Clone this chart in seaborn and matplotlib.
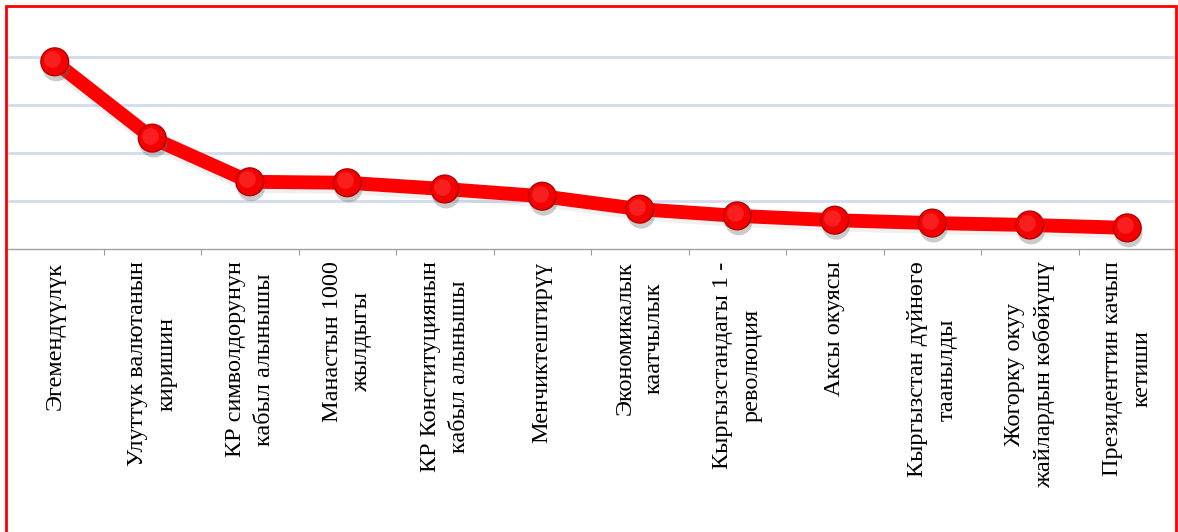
import matplotlib
matplotlib.use("Agg")
import matplotlib.pyplot as plt
import matplotlib.patheffects as pe
from matplotlib.patches import Rectangle
from matplotlib.transforms import offset_copy
from matplotlib.ticker import FixedLocator
import seaborn as sns
import pandas as pd

events = [
    "Эгемендүүлүк",
    "Улуттук валютанын\nкиришин",
    "КР символдорунун\nкабыл алынышы",
    "Манастын 1000\nжылдыгы",
    "КР Конституциянын\nкабыл алынышы",
    "Менчиктештирүү",
    "Экономикалык\nкаатчылык",
    "Кыргызстандагы 1 -\nреволюция",
    "Аксы окуясы",
    "Кыргызстан дүйнөгө\nтаанылды",
    "Жогорку окуу\nжайлардын көбөйүшү",
    "Президенттин качып\nкетиши",
]
values = [39.0, 23.1, 14.0, 13.8, 12.5, 11.0, 8.3, 6.9, 6.0, 5.4, 5.0, 4.4]
y_ticks = [0, 10, 20, 30, 40, 50]

df = pd.DataFrame({"event": events, "value": values})

sns.set_theme(style="white")
plt.rcParams["font.family"] = ["Liberation Serif", "DejaVu Serif"]

W, H, DPI = 1178, 532, 100
fig = plt.figure(figsize=(W / DPI, H / DPI), dpi=DPI)
ax = fig.add_axes([6 / W, 1 - 249 / H, 1170 / W, 240 / H])

sns.pointplot(data=df, x="event", y="value", order=events, color="#ff0000",
              markers="o", errorbar=None, ax=ax, linewidth=10, markersize=1)

main = ax.lines[0]
main.set_marker("None")
main.set_solid_capstyle("round")
main.set_solid_joinstyle("round")
main.set_path_effects([pe.SimpleLineShadow(offset=(0, -3), shadow_color="#888888", alpha=0.12),
                       pe.Normal()])

# spherical markers on the same data points
ax.plot(main.get_xdata(), main.get_ydata(), linestyle="none", marker="o", markersize=20,
        color="#f50000", markeredgecolor="#b40000", markeredgewidth=1.0, zorder=4,
        path_effects=[pe.SimplePatchShadow(offset=(1, -4), shadow_rgbFace="#6a6a6a", alpha=0.35),
                      pe.Normal()])
hl = offset_copy(ax.transData, fig=fig, x=-2.5, y=2.5, units="dots")
ax.plot(main.get_xdata(), main.get_ydata(), linestyle="none", marker="o", markersize=12,
        color="#ff3a3a", markeredgewidth=0, alpha=0.55, transform=hl, zorder=5)

ax.set_xlim(-0.5, len(events) - 0.5)
ax.set_ylim(y_ticks[0], y_ticks[-1])
ax.set_yticks(y_ticks[1:-1])
ax.set_yticklabels([])
ax.tick_params(axis="y", length=0)
ax.grid(axis="y", color="#d2dcee", linewidth=2)
ax.grid(axis="x", visible=False)
ax.set_axisbelow(True)
ax.set_xlabel("")
ax.set_ylabel("")

for s in ["left", "top", "right"]:
    ax.spines[s].set_visible(False)
ax.spines["bottom"].set_color("#a0a0a0")
ax.spines["bottom"].set_linewidth(1.0)
ax.spines["bottom"].set_linestyle((0, (1, 1)))

ax.xaxis.set_minor_locator(FixedLocator([i + 0.5 for i in range(len(events) - 1)]))
ax.tick_params(axis="x", which="minor", length=4, width=0.8, color="#9a9a9a", direction="out", bottom=True)
ax.tick_params(axis="x", which="major", length=0, pad=9)
for lbl in ax.get_xticklabels():
    lbl.set_rotation(90)
    lbl.set_ha("center")
    lbl.set_va("top")
    lbl.set_multialignment("center")
    lbl.set_fontsize(17.5)
    lbl.set_linespacing(1.5)
    lbl.set_color("black")

fig.patches.append(Rectangle((6 / W, -0.01), 1170 / W, 1 - 6 / H + 0.01, transform=fig.transFigure,
                             fill=False, edgecolor="#ff0000", linewidth=2, zorder=10))

fig.savefig("out.png", dpi=DPI, facecolor="white")
